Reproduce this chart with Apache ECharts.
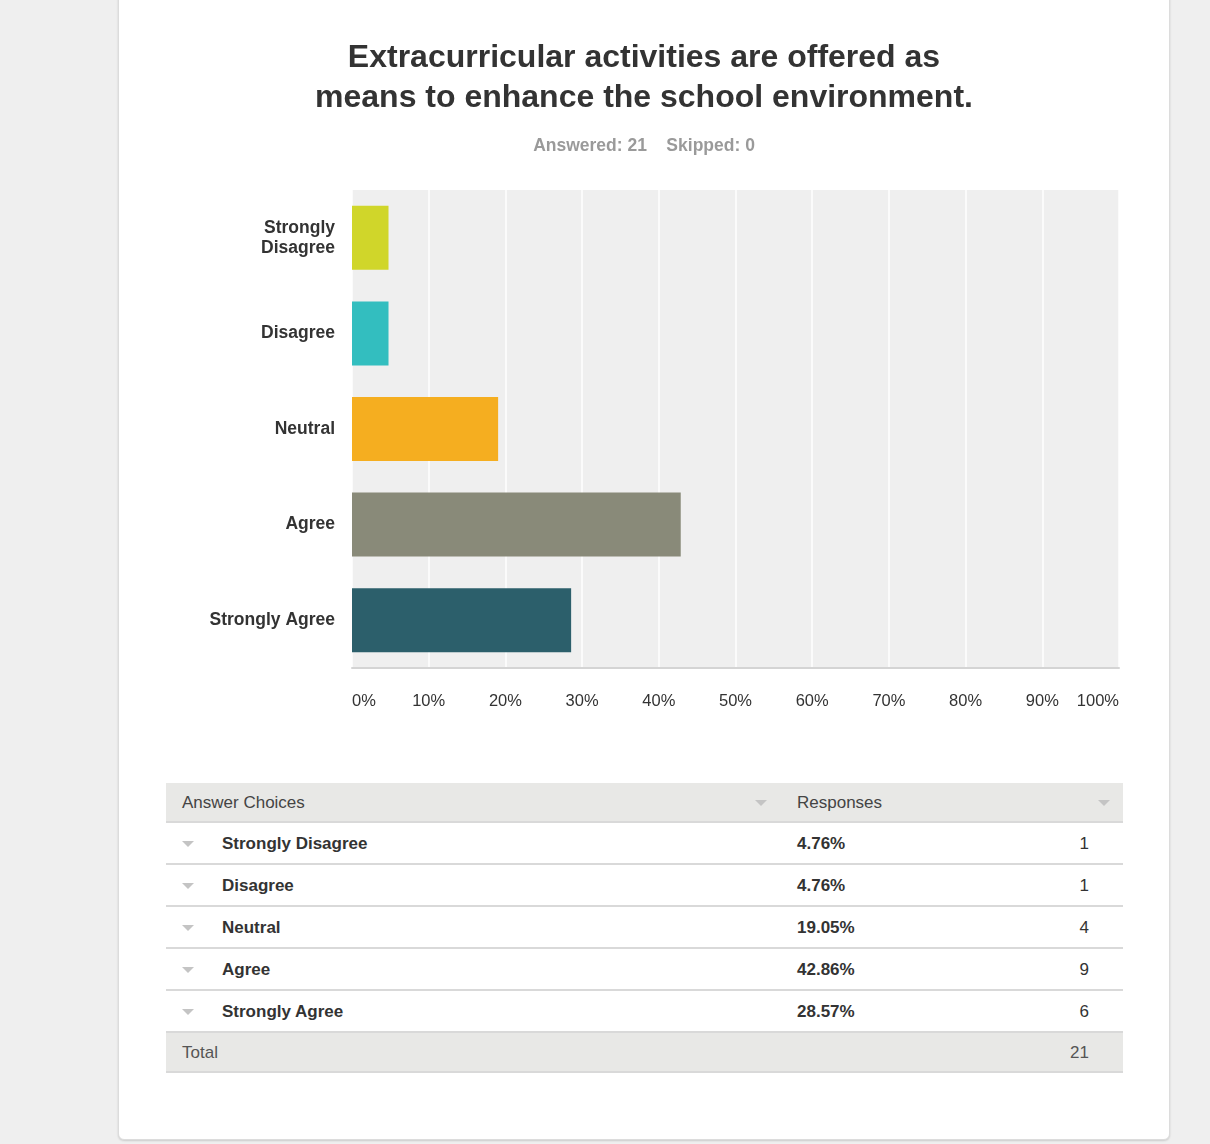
<!DOCTYPE html>
<html>
<head>
<meta charset="utf-8">
<script src="https://cdn.jsdelivr.net/npm/echarts@6/dist/echarts.min.js"></script>
<style>
  html, body { margin:0; padding:0; background:#efefef; width:1210px; height:1144px; overflow:hidden; font-family: Arial, "Liberation Sans", Helvetica, sans-serif; }
  #card { position:absolute; left:118px; top:-10px; width:1052px; height:1150px; background:#fff; border:1px solid #dcdcdc; border-radius:6px; box-shadow:0 1px 2px rgba(0,0,0,0.15); box-sizing:border-box; }
  #chart { position:absolute; left:118px; top:0; width:1052px; height:740px; }
  #table { position:absolute; left:166px; top:783px; width:957px; color:#333; font-size:17px; }
  .row { position:relative; height:40px; border-bottom:2px solid #d9d9d9; box-sizing:content-box; }
  .row > div { position:absolute; top:1px; line-height:40px; }
  .head, .total { background:#e8e8e6; color:#444; }
  .head { height:38px; }
  .head > div { line-height:38px; }
  .total { height:38px; color:#555; }
  .total > div { line-height:38px; }
  .tri { width:0; height:0; border-left:6px solid transparent; border-right:6px solid transparent; border-top:6px solid #c4c4c4; top:50% !important; margin-top:-2px; }
  .b { font-weight:bold; }
</style>
</head>
<body>
<div id="card"></div>
<div id="chart"></div>
<div id="table"></div>
<script>
const titleLines = ['Extracurricular activities are offered as', 'means to enhance the school environment.'];
const subtitle = 'Answered: 21    Skipped: 0';
const categories = ['Strongly Disagree', 'Disagree', 'Neutral', 'Agree', 'Strongly Agree'];
const percents = [4.76, 4.76, 19.05, 42.86, 28.57];
const counts = [1, 1, 4, 9, 6];
const total = 21;
const colors = ['#d0d62a', '#33bebf', '#f5ae20', '#898a79', '#2c5f6b'];
const xTicks = [0, 10, 20, 30, 40, 50, 60, 70, 80, 90, 100];
const tableHeaders = ['Answer Choices', 'Responses'];

const FF = 'Arial, Liberation Sans, sans-serif';
const chart = echarts.init(document.getElementById('chart'));
chart.setOption({
  animation: false,
  title: [
    { text: titleLines.join('\n'), left: 'center', top: 33,
      textStyle: { fontSize: 32, fontWeight: 'bold', color: '#333', lineHeight: 40, fontFamily: FF } },
    { text: subtitle, left: 'center', top: 132,
      textStyle: { fontSize: 17.5, fontWeight: 'bold', color: '#9a9a9a', fontFamily: FF } }
  ],
  grid: { left: 234, top: 190, width: 767, height: 478, show: true, backgroundColor: '#efefef', borderWidth: 0 },
  xAxis: {
    type: 'value', min: 0, max: 100, interval: 10,
    axisLine: { show: true, lineStyle: { color: '#d4d4d4', width: 2 } },
    axisTick: { show: false },
    splitLine: { show: true, lineStyle: { color: '#ffffff', width: 1.5 } },
    axisLabel: { formatter: v => xTicks.includes(v) ? v + '%' : '', fontSize: 16.5, color: '#333', margin: 25,
      alignMinLabel: 'left', alignMaxLabel: 'right', fontFamily: FF }
  },
  yAxis: {
    type: 'category', data: categories, inverse: true,
    axisLine: { show: false }, axisTick: { show: false },
    axisLabel: { fontSize: 17.5, fontWeight: 'bold', color: '#333', lineHeight: 20, margin: 17, fontFamily: FF,
      formatter: v => v === 'Strongly Disagree' ? 'Strongly\nDisagree' : v }
  },
  series: [{
    type: 'bar', barWidth: 64,
    data: percents.map((v, i) => ({ value: v, itemStyle: { color: colors[i] } }))
  }]
});

// table
const t = document.getElementById('table');
let html = '<div class="row head"><div style="left:16px">' + tableHeaders[0] + '</div>' +
  '<div class="tri" style="left:589px"></div>' +
  '<div style="left:631px">' + tableHeaders[1] + '</div>' +
  '<div class="tri" style="left:932px"></div></div>';
categories.forEach((c, i) => {
  html += '<div class="row"><div class="tri" style="left:16px"></div>' +
    '<div class="b" style="left:56px">' + c + '</div>' +
    '<div class="b" style="left:631px">' + percents[i].toFixed(2) + '%</div>' +
    '<div style="right:34px">' + counts[i] + '</div></div>';
});
html += '<div class="row total"><div style="left:16px">Total</div><div style="right:34px">' + total + '</div></div>';
t.innerHTML = html;
</script>
</body>
</html>
